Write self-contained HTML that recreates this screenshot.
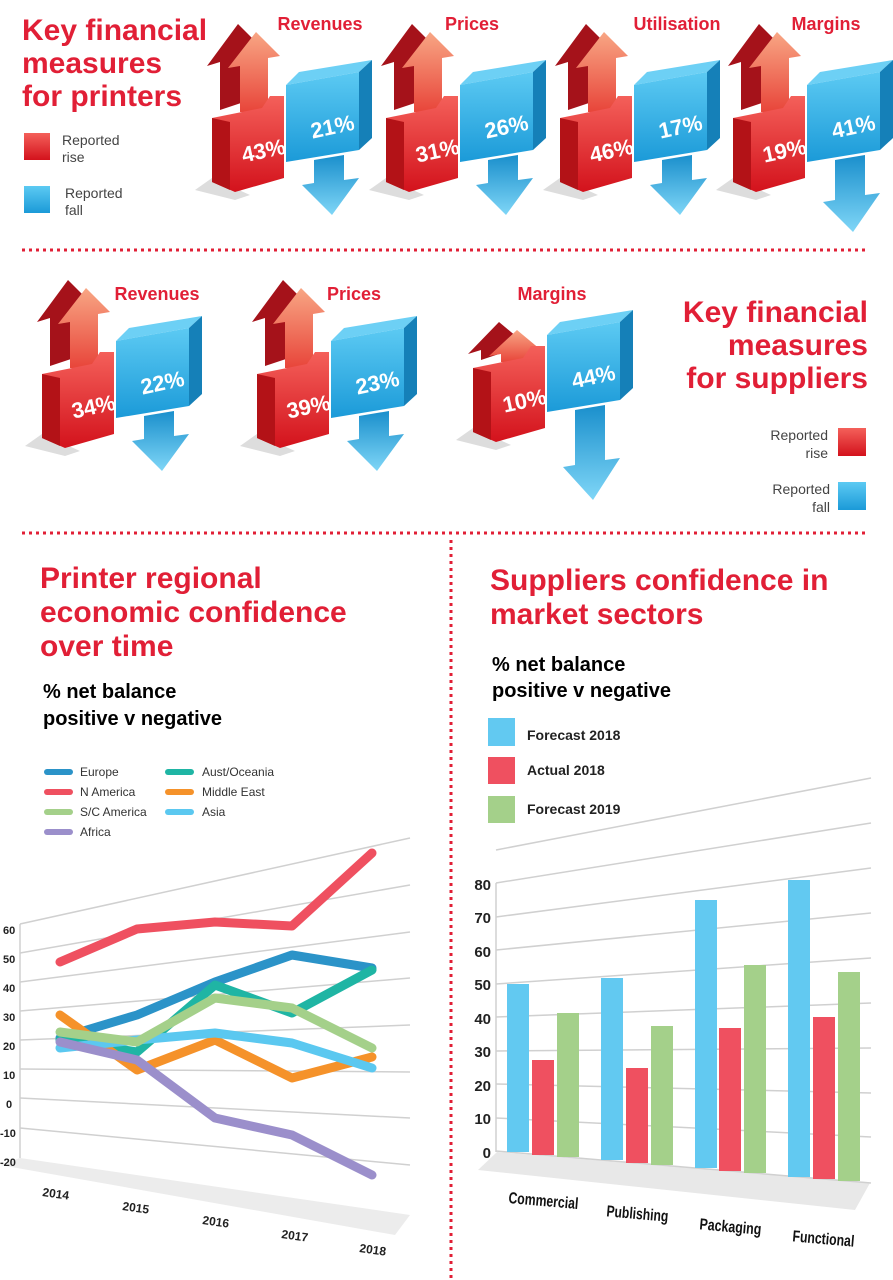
<!DOCTYPE html>
<html><head><meta charset="utf-8"><style>
body{margin:0;background:#fff}
svg{display:block}
.h{font-family:"Liberation Sans",sans-serif;font-weight:bold;fill:#e11f36}
.t{font-family:"Liberation Sans",sans-serif}
.pc{font-family:"Liberation Sans",sans-serif;font-weight:bold;fill:#fff;font-size:22px;text-anchor:middle}
.n{font-family:"Liberation Sans Narrow","Liberation Sans",sans-serif;font-weight:bold}
</style></head><body>
<svg width="893" height="1280" viewBox="0 0 893 1280" xmlns="http://www.w3.org/2000/svg">
<defs>
<linearGradient id="rg" x1="0" y1="0" x2="0" y2="1"><stop offset="0" stop-color="#f4605a"/><stop offset="1" stop-color="#d3121c"/></linearGradient>
<linearGradient id="ra" x1="0" y1="0" x2="0" y2="1"><stop offset="0" stop-color="#f8a684"/><stop offset="1" stop-color="#e8453a"/></linearGradient>
<linearGradient id="bg" x1="0" y1="0" x2="0" y2="1"><stop offset="0" stop-color="#5ccaf3"/><stop offset="1" stop-color="#1b9ad8"/></linearGradient>
<linearGradient id="ba" x1="0" y1="0" x2="0" y2="1"><stop offset="0" stop-color="#1a8fcc"/><stop offset="1" stop-color="#7fd6f7"/></linearGradient>
<g id="redb">
<polygon points="195,190 212,178 250,195 235,200" fill="#ddd"/>
</g>
<g id="red">
<polygon points="195,190 212,178 250,195 235,200" fill="#ddd"/>
<polygon points="220,110 220,62 207,66 238,24 262,48 250,52 250,100" fill="#a5121a"/>
<polygon points="240,112 240,66 228,68 256,32 280,56 268,58 268,112" fill="url(#ra)"/>
<polygon points="212,118 262,108 270,96 284,96 284,178 235,192 212,182" fill="url(#rg)"/>
<polygon points="212,118 230,122 230,190 212,182" fill="#b31217"/>
</g>
<g id="reds">
<polygon points="195,190 212,178 250,195 235,200" fill="#ddd"/>
<polygon points="220,110 220,100 207,104 238,72 262,92 250,95 250,100" fill="#a5121a"/>
<polygon points="240,112 240,104 228,106 256,80 280,100 268,102 268,112" fill="url(#ra)"/>
<polygon points="212,118 262,108 270,96 284,96 284,178 235,192 212,182" fill="url(#rg)"/>
<polygon points="212,118 230,122 230,190 212,182" fill="#b31217"/>
</g>
<g id="blue">
<polygon points="286,85 299,72 372,60 359,72" fill="#6dd0f5"/>
<polygon points="359,72 372,60 372,138 359,150" fill="#1580b8"/>
<polygon points="286,85 359,72 359,150 286,162" fill="url(#bg)"/>
<polygon points="314,160 344,155 344,180 359,178 332,215 302,185 314,183" fill="url(#ba)"/>
</g>
<g id="bluel">
<polygon points="286,85 299,72 372,60 359,72" fill="#6dd0f5"/>
<polygon points="359,72 372,60 372,138 359,150" fill="#1580b8"/>
<polygon points="286,85 359,72 359,150 286,162" fill="url(#bg)"/>
<polygon points="314,160 344,155 344,195 359,193 332,232 302,202 314,200" fill="url(#ba)"/>
</g>
<g id="bluell">
<polygon points="286,85 299,72 372,60 359,72" fill="#6dd0f5"/>
<polygon points="359,72 372,60 372,138 359,150" fill="#1580b8"/>
<polygon points="286,85 359,72 359,150 286,162" fill="url(#bg)"/>
<polygon points="314,160 344,155 344,210 359,208 332,250 302,217 314,215" fill="url(#ba)"/>
</g>
</defs>

<!-- Section 1 -->
<text class="h" font-size="30" x="22" y="40">Key financial</text>
<text class="h" font-size="30" x="22" y="73">measures</text>
<text class="h" font-size="30" x="22" y="106">for printers</text>
<rect x="24" y="133" width="26" height="27" fill="url(#rg)"/>
<text class="t" font-size="14" fill="#444" x="62" y="145">Reported</text>
<text class="t" font-size="14" fill="#444" x="62" y="162">rise</text>
<rect x="24" y="186" width="26" height="27" fill="url(#bg)"/>
<text class="t" font-size="14" fill="#444" x="65" y="198">Reported</text>
<text class="t" font-size="14" fill="#444" x="65" y="215">fall</text>
<g class="h" font-size="18" text-anchor="middle">
<text x="320" y="30">Revenues</text><text x="472" y="30">Prices</text><text x="677" y="30">Utilisation</text><text x="826" y="30">Margins</text>
</g>
<use href="#red"/><use href="#blue"/>
<use href="#red" transform="translate(174,0)"/><use href="#blue" transform="translate(174,0)"/>
<use href="#red" transform="translate(348,0)"/><use href="#blue" transform="translate(348,0)"/>
<use href="#red" transform="translate(521,0)"/><use href="#bluel" transform="translate(521,0)"/>
<g class="pc">
<text transform="translate(265,158) rotate(-12)">43%</text><text transform="translate(334,134) rotate(-12)">21%</text>
<text transform="translate(439,158) rotate(-12)">31%</text><text transform="translate(508,134) rotate(-12)">26%</text>
<text transform="translate(613,158) rotate(-12)">46%</text><text transform="translate(682,134) rotate(-12)">17%</text>
<text transform="translate(786,158) rotate(-12)">19%</text><text transform="translate(855,134) rotate(-12)">41%</text>
</g>
<line x1="22" y1="250" x2="868" y2="250" stroke="#e11f36" stroke-width="3" stroke-dasharray="3,4"/>

<!-- Section 2 -->
<g class="h" font-size="18" text-anchor="middle">
<text x="157" y="300">Revenues</text><text x="354" y="300">Prices</text><text x="552" y="300">Margins</text>
</g>
<use href="#red" transform="translate(-170,256)"/><use href="#blue" transform="translate(-170,256)"/>
<use href="#red" transform="translate(45,256)"/><use href="#blue" transform="translate(45,256)"/>
<use href="#reds" transform="translate(261,250)"/><use href="#bluell" transform="translate(261,250)"/>
<g class="pc">
<text transform="translate(95,414) rotate(-12)">34%</text><text transform="translate(164,390) rotate(-12)">22%</text>
<text transform="translate(310,414) rotate(-12)">39%</text><text transform="translate(379,390) rotate(-12)">23%</text>
<text transform="translate(526,408) rotate(-12)">10%</text><text transform="translate(595,384) rotate(-12)">44%</text>
</g>
<g class="h" font-size="30" text-anchor="end">
<text x="868" y="322">Key financial</text><text x="868" y="355">measures</text><text x="868" y="388">for suppliers</text>
</g>
<g class="t" font-size="14" fill="#444" text-anchor="end">
<text x="828" y="440">Reported</text><text x="828" y="458">rise</text>
<text x="830" y="494">Reported</text><text x="830" y="512">fall</text>
</g>
<rect x="838" y="428" width="28" height="28" fill="url(#rg)"/>
<rect x="838" y="482" width="28" height="28" fill="url(#bg)"/>
<line x1="22" y1="533" x2="868" y2="533" stroke="#e11f36" stroke-width="3" stroke-dasharray="3,4"/>
<line x1="451" y1="540" x2="451" y2="1280" stroke="#e11f36" stroke-width="3" stroke-dasharray="3,4"/>

<!-- Line chart -->
<g class="h" font-size="30">
<text x="40" y="588">Printer regional</text><text x="40" y="622">economic confidence</text><text x="40" y="656">over time</text>
</g>
<text class="t" font-weight="bold" font-size="20" x="43" y="698">% net balance</text>
<text class="t" font-weight="bold" font-size="20" x="43" y="725">positive v negative</text>
<g stroke-width="6" stroke-linecap="round">
<line x1="47" y1="772" x2="70" y2="772" stroke="#2b93c8"/>
<line x1="47" y1="792" x2="70" y2="792" stroke="#ef5060"/>
<line x1="47" y1="812" x2="70" y2="812" stroke="#a4d08a"/>
<line x1="47" y1="832" x2="70" y2="832" stroke="#9b8fcb"/>
<line x1="168" y1="772" x2="191" y2="772" stroke="#1fb5a4"/>
<line x1="168" y1="792" x2="191" y2="792" stroke="#f5922a"/>
<line x1="168" y1="812" x2="191" y2="812" stroke="#5bc8f0"/>
</g>
<g class="t" font-size="12" fill="#333">
<text x="80" y="776">Europe</text><text x="80" y="796">N America</text><text x="80" y="816">S/C America</text><text x="80" y="836">Africa</text>
<text x="202" y="776">Aust/Oceania</text><text x="202" y="796">Middle East</text><text x="202" y="816">Asia</text>
</g>
<polygon points="0,1165 20,1158 410,1215 395,1235" fill="#ececec"/>
<g stroke="#d0d0d0" stroke-width="1.5">
<line x1="20" y1="924" x2="410" y2="838"/>
<line x1="20" y1="953" x2="410" y2="885"/>
<line x1="20" y1="982" x2="410" y2="932"/>
<line x1="20" y1="1011" x2="410" y2="978"/>
<line x1="20" y1="1040" x2="410" y2="1025"/>
<line x1="20" y1="1069" x2="410" y2="1072"/>
<line x1="20" y1="1098" x2="410" y2="1118"/>
<line x1="20" y1="1128" x2="410" y2="1165"/>
<line x1="20" y1="924" x2="20" y2="1158"/>
</g>
<g class="n" font-size="11" fill="#222">
<text x="3" y="934">60</text><text x="3" y="963">50</text><text x="3" y="992">40</text><text x="3" y="1021">30</text><text x="3" y="1050">20</text><text x="3" y="1079">10</text><text x="6" y="1108">0</text><text x="0" y="1137">-10</text><text x="0" y="1166">-20</text>
</g>
<g class="n" font-size="12" fill="#222">
<text transform="translate(42,1196) rotate(8)">2014</text>
<text transform="translate(122,1210) rotate(8)">2015</text>
<text transform="translate(202,1224) rotate(8)">2016</text>
<text transform="translate(281,1238) rotate(8)">2017</text>
<text transform="translate(359,1252) rotate(8)">2018</text>
</g>
<g fill="none" stroke-width="9" stroke-linecap="round" stroke-linejoin="round">
<polyline stroke="#ef5060" points="60,962 137,929 215,922 292,926 372,853"/>
<polyline stroke="#2b93c8" points="60,1038 137,1015 215,982 292,955 372,968"/>
<polyline stroke="#1fb5a4" points="60,1040 137,1052 215,985 292,1013 372,970"/>
<polyline stroke="#f5922a" points="60,1015 137,1070 215,1040 292,1078 372,1057"/>
<polyline stroke="#5bc8f0" points="60,1048 137,1040 215,1033 292,1043 372,1068"/>
<polyline stroke="#a4d08a" points="60,1032 137,1042 215,998 292,1008 372,1048"/>
<polyline stroke="#9b8fcb" points="60,1042 137,1060 215,1118 292,1135 372,1175"/>
</g>

<!-- Bar chart -->
<g class="h" font-size="30">
<text x="490" y="590">Suppliers confidence in</text><text x="490" y="624">market sectors</text>
</g>
<text class="t" font-weight="bold" font-size="20" x="492" y="671">% net balance</text>
<text class="t" font-weight="bold" font-size="20" x="492" y="697">positive v negative</text>
<rect x="488" y="718" width="27" height="28" fill="#62c9f1"/>
<rect x="488" y="757" width="27" height="27" fill="#ef5060"/>
<rect x="488" y="796" width="27" height="27" fill="#a4d08a"/>
<g class="n" font-size="14" fill="#222">
<text x="527" y="740">Forecast 2018</text><text x="527" y="775">Actual 2018</text><text x="527" y="814">Forecast 2019</text>
</g>
<polygon points="478,1170 497,1152 870,1183 855,1210" fill="#e8e8e8"/>
<g stroke="#d0d0d0" stroke-width="1.5">
<line x1="496" y1="883" x2="871" y2="823"/>
<line x1="496" y1="917" x2="871" y2="868"/>
<line x1="496" y1="950" x2="871" y2="913"/>
<line x1="496" y1="984" x2="871" y2="958"/>
<line x1="496" y1="1017" x2="871" y2="1003"/>
<line x1="496" y1="1051" x2="871" y2="1048"/>
<line x1="496" y1="1084" x2="871" y2="1093"/>
<line x1="496" y1="1118" x2="871" y2="1137"/>
<line x1="496" y1="1151" x2="871" y2="1183"/>
<line x1="496" y1="883" x2="496" y2="1152"/>
<line x1="496" y1="850" x2="871" y2="778"/>
</g>
<g class="n" font-size="15" fill="#222" text-anchor="end">
<text x="491" y="890">80</text><text x="491" y="923">70</text><text x="491" y="957">60</text><text x="491" y="990">50</text><text x="491" y="1024">40</text><text x="491" y="1057">30</text><text x="491" y="1091">20</text><text x="491" y="1124">10</text><text x="491" y="1158">0</text>
</g>
<g>
<rect x="507" y="984" width="22" height="168" fill="#62c9f1"/><rect x="532" y="1060" width="22" height="95" fill="#ef5060"/><rect x="557" y="1013" width="22" height="144" fill="#a4d08a"/>
<rect x="601" y="978" width="22" height="182" fill="#62c9f1"/><rect x="626" y="1068" width="22" height="95" fill="#ef5060"/><rect x="651" y="1026" width="22" height="139" fill="#a4d08a"/>
<rect x="695" y="900" width="22" height="268" fill="#62c9f1"/><rect x="719" y="1028" width="22" height="143" fill="#ef5060"/><rect x="744" y="965" width="22" height="208" fill="#a4d08a"/>
<rect x="788" y="880" width="22" height="297" fill="#62c9f1"/><rect x="813" y="1017" width="22" height="162" fill="#ef5060"/><rect x="838" y="972" width="22" height="209" fill="#a4d08a"/>
</g>
<g class="n" font-size="16" fill="#111" text-anchor="middle">
<text transform="translate(543,1206) rotate(5)" textLength="70" lengthAdjust="spacingAndGlyphs">Commercial</text>
<text transform="translate(637,1219) rotate(5)" textLength="62" lengthAdjust="spacingAndGlyphs">Publishing</text>
<text transform="translate(730,1232) rotate(5)" textLength="62" lengthAdjust="spacingAndGlyphs">Packaging</text>
<text transform="translate(823,1244) rotate(5)" textLength="62" lengthAdjust="spacingAndGlyphs">Functional</text>
</g>
</svg>
</body></html>
